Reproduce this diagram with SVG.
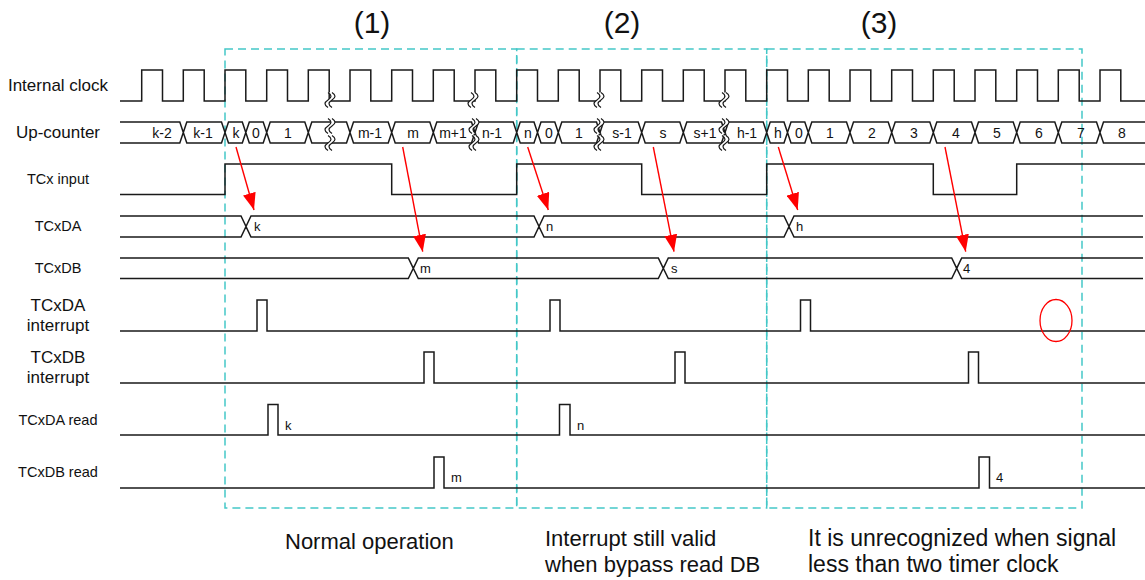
<svg xmlns="http://www.w3.org/2000/svg" xmlns:xlink="http://www.w3.org/1999/xlink" width="1145" height="580" viewBox="0 0 1145 580">
<style>
.sig{fill:none;stroke:#1a1a1a;stroke-width:1.5;stroke-linejoin:miter}
.lbl{font-family:"Liberation Sans",Arial,sans-serif;fill:#111;text-anchor:middle}
.big{font-size:17px}
.sm{font-size:14.5px}
.cnt{font-family:"Liberation Sans",Arial,sans-serif;font-size:14px;fill:#111;text-anchor:middle}
.val{font-family:"Liberation Sans",Arial,sans-serif;font-size:13px;fill:#111}
.title{font-family:"Liberation Sans",Arial,sans-serif;font-size:30px;fill:#111;text-anchor:middle}
.note{font-family:"Liberation Sans",Arial,sans-serif;font-size:22px;fill:#111}
.note3{font-size:23px}
.box{fill:none;stroke:#44C8C8;stroke-width:1.5;stroke-dasharray:8 5}
.arr{stroke:#FF0000;stroke-width:1.4;fill:none;marker-end:url(#ah)}
</style>
<defs>
<marker id="ah" markerUnits="userSpaceOnUse" markerWidth="17" markerHeight="13" refX="17" refY="6.5" orient="auto">
<path d="M0,0 L17,6.5 L0,13 Z" fill="#FF0000"/>
</marker>
<g id="brk">
<path d="M-2,-7.5 C2,-5 2,-2.5 -2,0 C-6,2.5 -6,5 -2,7.5 L2,7.5 C-2,5 -2,2.5 2,0 C6,-2.5 6,-5 2,-7.5 Z" fill="#fff" stroke="none"/>
<path d="M-2,-7.5 C2,-5 2,-2.5 -2,0 C-6,2.5 -6,5 -2,7.5 M2,-7.5 C6,-5 6,-2.5 2,0 C-2,2.5 -2,5 2,7.5" fill="none" stroke="#1a1a1a" stroke-width="1.2"/>
</g>
</defs>
<rect width="1145" height="580" fill="#fff"/>

<g id="titles">
<text class="title" x="372" y="33">(1)</text>
<text class="title" x="622" y="33">(2)</text>
<text class="title" x="879" y="33">(3)</text>
</g>

<g id="boxes">
<rect class="box" x="225" y="49" width="291.7" height="459"/>
<rect class="box" x="516.7" y="49" width="250" height="459"/>
<rect class="box" x="766.7" y="49" width="315.3" height="459"/>
</g>

<g id="sig-clock">
<text class="lbl big" x="58" y="91">Internal clock</text>
<path class="sig" d="M120,101 H141.7 V70 H162.5 V101 H183.3 V70 H204.2 V101 H225 V70 H245.8 V101 H266.7 V70 H287.5 V101 H308.3 V70 H329.2 V101 H350 V70 H370.8 V101 H391.7 V70 H412.5 V101 H433.3 V70 H454.2 V101 H475 V70 H495.8 V101 H516.7 V70 H537.5 V101 H558.3 V70 H579.2 V101 H600 V70 H620.8 V101 H641.7 V70 H662.5 V101 H683.3 V70 H704.2 V101 H725 V70 H745.8 V101 H766.7 V70 H787.5 V101 H808.3 V70 H829.2 V101 H850 V70 H870.8 V101 H891.7 V70 H912.5 V101 H933.3 V70 H954.2 V101 H975 V70 H995.8 V101 H1016.7 V70 H1037.5 V101 H1058.3 V70 H1079.2 V101 H1100 V70 H1120.8 V101 H1145"/>
<use xlink:href="#brk" x="330" y="100"/>
<use xlink:href="#brk" x="473" y="100"/>
<use xlink:href="#brk" x="599" y="100"/>
<use xlink:href="#brk" x="724" y="100"/>
</g>

<g id="sig-counter">
<text class="lbl big" x="58" y="138">Up-counter</text>
<path class="sig" d="M120,122 H179.8 L183.3,132.5 L179.8,143 H120
M183.3,132.5 L186.8,122 H221.5 L225,132.5 L221.5,143 H186.8 Z
M225,132.5 L228.5,122 H242.3 L245.8,132.5 L242.3,143 H228.5 Z
M245.8,132.5 L249.3,122 H263.2 L266.7,132.5 L263.2,143 H249.3 Z
M266.7,132.5 L270.2,122 H304.8 L308.3,132.5 L304.8,143 H270.2 Z
M308.3,132.5 L311.8,122 H346.5 L350,132.5 L346.5,143 H311.8 Z
M350,132.5 L353.5,122 H388.2 L391.7,132.5 L388.2,143 H353.5 Z
M391.7,132.5 L395.2,122 H429.8 L433.3,132.5 L429.8,143 H395.2 Z
M433.3,132.5 L436.8,122 H471.5 L475,132.5 L471.5,143 H436.8 Z
M475,132.5 L478.5,122 H513.2 L516.7,132.5 L513.2,143 H478.5 Z
M516.7,132.5 L520.2,122 H534 L537.5,132.5 L534,143 H520.2 Z
M537.5,132.5 L541,122 H554.8 L558.3,132.5 L554.8,143 H541 Z
M558.3,132.5 L561.8,122 H596.5 L600,132.5 L596.5,143 H561.8 Z
M600,132.5 L603.5,122 H638.2 L641.7,132.5 L638.2,143 H603.5 Z
M641.7,132.5 L645.2,122 H679.8 L683.3,132.5 L679.8,143 H645.2 Z
M683.3,132.5 L686.8,122 H721.5 L725,132.5 L721.5,143 H686.8 Z
M725,132.5 L728.5,122 H763.2 L766.7,132.5 L763.2,143 H728.5 Z
M766.7,132.5 L770.2,122 H784 L787.5,132.5 L784,143 H770.2 Z
M787.5,132.5 L791,122 H804.8 L808.3,132.5 L804.8,143 H791 Z
M808.3,132.5 L811.8,122 H846.5 L850,132.5 L846.5,143 H811.8 Z
M850,132.5 L853.5,122 H888.2 L891.7,132.5 L888.2,143 H853.5 Z
M891.7,132.5 L895.2,122 H929.8 L933.3,132.5 L929.8,143 H895.2 Z
M933.3,132.5 L936.8,122 H971.5 L975,132.5 L971.5,143 H936.8 Z
M975,132.5 L978.5,122 H1013.2 L1016.7,132.5 L1013.2,143 H978.5 Z
M1016.7,132.5 L1020.2,122 H1054.8 L1058.3,132.5 L1054.8,143 H1020.2 Z
M1058.3,132.5 L1061.8,122 H1096.5 L1100,132.5 L1096.5,143 H1061.8 Z
M1145,122 H1103.5 L1100,132.5 L1103.5,143 H1145"/>
<use xlink:href="#brk" x="330" y="126"/>
<use xlink:href="#brk" x="330" y="143"/>
<use xlink:href="#brk" x="474" y="126"/>
<use xlink:href="#brk" x="474" y="143"/>
<use xlink:href="#brk" x="599" y="126"/>
<use xlink:href="#brk" x="599" y="143"/>
<use xlink:href="#brk" x="724" y="126"/>
<use xlink:href="#brk" x="724" y="143"/>
<text class="cnt" x="162" y="137.5">k-2</text>
<text class="cnt" x="203" y="137.5">k-1</text>
<text class="cnt" x="236" y="137.5">k</text>
<text class="cnt" x="256" y="137.5">0</text>
<text class="cnt" x="288" y="137.5">1</text>
<text class="cnt" x="370" y="137.5">m-1</text>
<text class="cnt" x="413" y="137.5">m</text>
<text class="cnt" x="453" y="137.5">m+1</text>
<text class="cnt" x="492" y="137.5">n-1</text>
<text class="cnt" x="528" y="137.5">n</text>
<text class="cnt" x="549" y="137.5">0</text>
<text class="cnt" x="579" y="137.5">1</text>
<text class="cnt" x="622" y="137.5">s-1</text>
<text class="cnt" x="663" y="137.5">s</text>
<text class="cnt" x="705" y="137.5">s+1</text>
<text class="cnt" x="747" y="137.5">h-1</text>
<text class="cnt" x="778" y="137.5">h</text>
<text class="cnt" x="799" y="137.5">0</text>
<text class="cnt" x="830" y="137.5">1</text>
<text class="cnt" x="872" y="137.5">2</text>
<text class="cnt" x="914" y="137.5">3</text>
<text class="cnt" x="956" y="137.5">4</text>
<text class="cnt" x="997" y="137.5">5</text>
<text class="cnt" x="1039" y="137.5">6</text>
<text class="cnt" x="1081" y="137.5">7</text>
<text class="cnt" x="1122" y="137.5">8</text>
</g>

<g id="sig-input">
<text class="lbl sm" x="58" y="184">TCx input</text>
<path class="sig" d="M120,194.5 H225 V164 H391.7 V194.5 H516.7 V164 H641.7 V194.5 H766.7 V164 H933.3 V194.5 H1016.7 V164 H1145"/>
</g>

<g id="sig-tcxda">
<text class="lbl sm" x="58" y="231">TCxDA</text>
<path class="sig" d="M120,216 H241 L246,226.5 L241,237 H120 M246,226.5 L251,216 H534 L539,226.5 L534,237 H251 Z M539,226.5 L544,216 H784 L789,226.5 L784,237 H544 Z M1143,216 H794 L789,226.5 L794,237 H1143"/>
<text class="val" x="254" y="231">k</text>
<text class="val" x="546" y="231">n</text>
<text class="val" x="796" y="231">h</text>
</g>

<g id="sig-tcxdb">
<text class="lbl sm" x="58" y="273">TCxDB</text>
<path class="sig" d="M120,258 H408.3 L413.3,268.3 L408.3,278.5 H120 M413.3,268.3 L418.3,258 H658.3 L663.3,268.3 L658.3,278.5 H418.3 Z M663.3,268.3 L668.3,258 H951.7 L956.7,268.3 L951.7,278.5 H668.3 Z M1143,258 H961.7 L956.7,268.3 L961.7,278.5 H1143"/>
<text class="val" x="420" y="273">m</text>
<text class="val" x="671" y="273">s</text>
<text class="val" x="963" y="273">4</text>
</g>

<g id="sig-da-int">
<text class="lbl big" x="58" y="311">TCxDA</text>
<text class="lbl big" x="58" y="331">interrupt</text>
<path class="sig" d="M120,331 H257 V300 H267 V331 H550 V300 H560 V331 H800.5 V300 H810.5 V331 H1145"/>
<ellipse cx="1056" cy="320.5" rx="16" ry="21" fill="none" stroke="#FF0000" stroke-width="1.3"/>
</g>

<g id="sig-db-int">
<text class="lbl big" x="58" y="363">TCxDB</text>
<text class="lbl big" x="58" y="383">interrupt</text>
<path class="sig" d="M120,383 H424 V352 H434 V383 H675 V352 H685 V383 H968.5 V352 H978.5 V383 H1145"/>
</g>

<g id="sig-da-read">
<text class="lbl sm" x="58" y="425">TCxDA read</text>
<path class="sig" d="M120,435 H268 V404.5 H278 V435 H559.5 V404.5 H570 V435 H1145"/>
<text class="val" x="285" y="430">k</text>
<text class="val" x="577" y="430">n</text>
</g>

<g id="sig-db-read">
<text class="lbl sm" x="58" y="477">TCxDB read</text>
<path class="sig" d="M120,488 H434 V457 H444 V488 H979 V457 H989.5 V488 H1145"/>
<text class="val" x="451" y="482">m</text>
<text class="val" x="996" y="482">4</text>
</g>

<g id="connectors">
<line class="arr" x1="236" y1="147" x2="254" y2="210"/>
<line class="arr" x1="402.7" y1="147" x2="422.7" y2="251.7"/>
<line class="arr" x1="527.7" y1="147" x2="548.3" y2="210"/>
<line class="arr" x1="653.3" y1="147" x2="674" y2="251.7"/>
<line class="arr" x1="778.3" y1="147" x2="797.7" y2="210"/>
<line class="arr" x1="945" y1="147" x2="965.7" y2="251.7"/>
</g>

<g id="notes">
<text class="note" x="285" y="549">Normal operation</text>
<text class="note" x="545" y="546">Interrupt still valid</text>
<text class="note" x="545" y="572">when bypass read DB</text>
<text class="note note3" x="808" y="546">It is unrecognized when signal</text>
<text class="note note3" x="808" y="572">less than two timer clock</text>
</g>
</svg>
